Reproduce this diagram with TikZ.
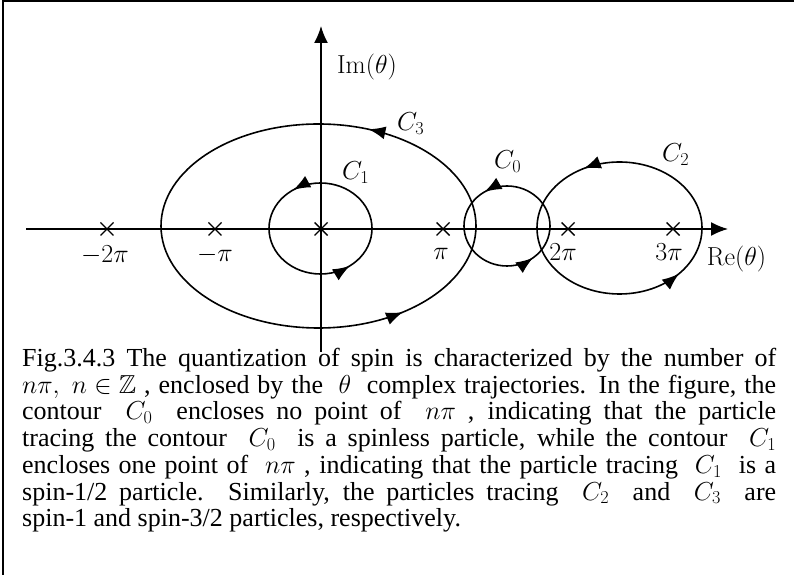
\RequirePackage{fix-cm}
\documentclass[tikz,border=0pt]{standalone}
\usepackage{amssymb}
\usepackage[no-math]{fontspec}
\setmainfont{Liberation Serif}
\usetikzlibrary{arrows.meta,decorations.markings,calc}
\tikzset{
  curve/.style={line width=1.6pt},
  axis/.style={line width=1.6pt,-{Latex[length=17pt,width=14pt]}},
  lbl/.style={inner sep=0pt,font=\fontsize{26}{30}\selectfont},
  marks/.style 2 args={postaction={decorate,decoration={markings,
     mark=at position #1 with {\arrow{Latex[length=17pt,width=13pt]}},
     mark=at position #2 with {\arrow{Latex[length=17pt,width=13pt]}}}}},
}
\newcommand{\xmark}[1]{\draw[line width=1.4pt] ($(#1)+(-6.5,-6.5)$) -- ($(#1)+(6.5,6.5)$) ($(#1)+(-6.5,6.5)$) -- ($(#1)+(6.5,-6.5)$);}
\begin{document}
\begin{tikzpicture}[x=1pt,y=1pt]
\useasboundingbox (0,0) rectangle (794,575);
% frame (top and left only)
\coordinate (fr1) at (794,573.5);
\coordinate (fr2) at (3,573.5);
\coordinate (fr3) at (3,0);
\draw[line width=2pt] (fr1) -- (fr2) -- (fr3);
% axes
\coordinate (xs) at (26,346);
\coordinate (xe) at (728,346);
\coordinate (ys) at (321,223);
\coordinate (ye) at (321,549);
\draw[axis] (xs) -- (xe);
\draw[axis] (ys) -- (ye);
% contours
\draw[curve,marks={0.189}{0.855}] (318.5,349) ellipse [x radius=157.5,y radius=102];
\draw[curve,marks={0.343}{0.851}] (320.5,346.5) ellipse [x radius=51.5,y radius=45.5];
\draw[curve,marks={0.340}{0.856}] (507,349) ellipse [x radius=43,y radius=40];
\draw[curve,marks={0.328}{0.887}] (619.5,347) ellipse [x radius=82.5,y radius=66];
% crosses
\coordinate (p-2) at (107,346);
\coordinate (p-1) at (215,346);
\coordinate (p0) at (321,346);
\coordinate (p1) at (443,346);
\coordinate (p2) at (568,346);
\coordinate (p3) at (673,346);
\foreach \p in {p-2,p-1,p0,p1,p2,p3} {\xmark{\p}}
% labels
\node[lbl] (im) at (367,507.5) {$\mathrm{Im}(\theta)$};
\node[lbl] (re) at (736.5,316) {$\mathrm{Re}(\theta)$};
\node[lbl] (lm2) at (105,320) {$-2\pi$};
\node[lbl] (lm1) at (215,320) {$-\pi$};
\node[lbl] (l1) at (441,321) {$\pi$};
\node[lbl] (l2) at (563,323) {$2\pi$};
\node[lbl] (l3) at (669,323) {$3\pi$};
\node[lbl,anchor=base west] (c3) at (397,444) {$C_3$};
\node[lbl,anchor=base west] (c0) at (494,406) {$C_0$};
\node[lbl,anchor=base west] (c1) at (342,395) {$C_1$};
\node[lbl,anchor=base west] (c2) at (662,413) {$C_2$};
% caption
\node[anchor=north west,inner sep=0pt,text width=754pt,align=justify,
      font=\fontsize{26}{26.7}\selectfont] (cap) at (22,227) {%
\thickmuskip=5mu\medmuskip=4mu
Fig.3.4.3 The quantization of spin is characterized by the number of\linebreak
$n\pi,\ n\in\mathbb{Z}$ , enclosed by the \ $\theta$ \ complex trajectories. In the figure, the\linebreak
contour \ $C_0$ \ encloses no point of \ $n\pi$ , indicating that the particle\linebreak
tracing the contour \ $C_0$ \ is a spinless particle, while the contour \ $C_1$\linebreak
encloses one point of \ $n\pi$ , indicating that the particle tracing \ $C_1$ \ is a\linebreak
spin-1/2 particle. Similarly, the particles tracing \ $C_2$ \ and \ $C_3$ \ are\linebreak
spin-1 and spin-3/2 particles, respectively.};
\end{tikzpicture}
\end{document}
